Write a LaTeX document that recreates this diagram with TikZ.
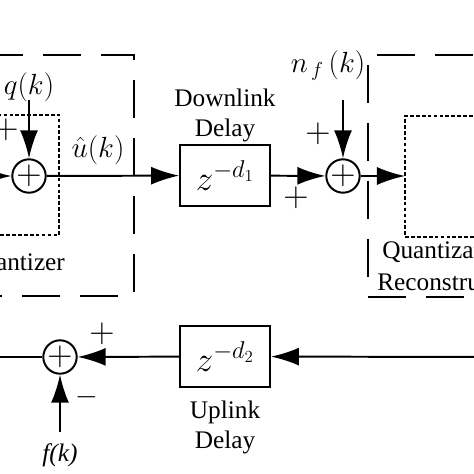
\documentclass[tikz,border=0pt]{standalone}
\usepackage{fontspec}
\setmainfont{Liberation Serif}
\usetikzlibrary{arrows.meta}

\tikzset{
    sum/.style={circle, draw, line width=1.4pt, minimum size=0.78cm, inner sep=0pt, font=\fontsize{26}{26}\selectfont},
    delaybox/.style={draw, line width=1.3pt, minimum width=2.25cm, minimum height=1.52cm, inner sep=0pt, font=\fontsize{24}{24}\selectfont},
    sig/.style={line width=1.4pt, -{Latex[length=0.7cm,width=0.45cm]}},
    wire/.style={line width=1.4pt},
    frame/.style={line width=2.1pt, dash pattern=on 0.95cm off 0.5cm},
    inner/.style={line width=2pt, dash pattern=on 2.6pt off 1.6pt},
    lbl/.style={font=\fontsize{18}{18}\selectfont},
    sym/.style={font=\fontsize{20}{20}\selectfont},
    sgn/.style={font=\fontsize{24}{24}\selectfont},
}

\begin{document}
\begin{tikzpicture}[x=0.025cm, y=-0.025cm]

    \useasboundingbox (0,0) rectangle (474,474);
    \clip (0,0) rectangle (474,474);

    % blocks
    \node[sum] (s1) at (29,176) {$+$};
    \node[sum] (s2) at (343,176) {$+$};
    \node[sum] (s3) at (60,357) {$+$};
    \node[delaybox] (dly1) at (225,175.5) {$z^{-d_1}$};
    \node[delaybox] (dly2) at (225,356.5) {$z^{-d_2}$};

    % free ends
    \coordinate (in)   at (-40,176);
    \coordinate (qtop) at (29,100);
    \coordinate (ntop) at (343,100);
    \coordinate (rin)  at (405,176);
    \coordinate (rfar) at (500,357);
    \coordinate (lout) at (-30,357);
    \coordinate (fbot) at (60,432);

    % frames
    \draw[frame] (134,60) -- (134,55) -- (-60,55);
    \draw[frame] (134,80) -- (134,296) -- (-60,296);
    \draw[frame] (377,55) -- (520,55);
    \draw[frame] (368,65) -- (368,297) -- (520,297);
    \draw[inner] (-20,115) -- (59,115) -- (59,235) -- (-20,235);
    \draw[inner] (520,116) -- (405,116) -- (405,237) -- (520,237);

    % signals
    \draw[sig] (in) -- (s1);
    \draw[sig] (qtop) -- (s1);
    \draw[sig] (s1) -- (dly1);
    \draw[sig] (dly1) -- (s2);
    \draw[sig] (ntop) -- (s2);
    \draw[sig] (s2) -- (rin);
    \draw[sig] (rfar) -- (dly2);
    \draw[sig] (dly2) -- (s3);
    \draw[sig] (fbot) -- (s3);
    \draw[wire] (s3) -- (lout);

    % labels
    \node[sym] at (29,87) {$q(k)$};
    \node[sym] at (98,150) {$\hat u(k)$};
    \node[sym, anchor=base] at (328,72) {$n_{\,f}\,(k)$};
    \node[lbl] at (60,455) {\textit{f(k)}};
    \node[lbl, anchor=base] at (225,106) {Downlink};
    \node[lbl, anchor=base] at (225,136) {Delay};
    \node[lbl, anchor=base] at (225,418) {Uplink};
    \node[lbl, anchor=base] at (225,448) {Delay};
    \node[lbl, anchor=base] at (15,270) {Quantizer};
    \node[lbl, anchor=base west, inner sep=0pt] at (382,258) {Quantization};
    \node[lbl, anchor=base west, inner sep=0pt] at (377,290) {Reconstruction};

    % signs
    \foreach \p in {(6,130),(318,134),(296,198),(102,334)}
        \node[sgn] at \p {$+$};
    \node[sym] at (87,397) {$-$};
\end{tikzpicture}
\end{document}
